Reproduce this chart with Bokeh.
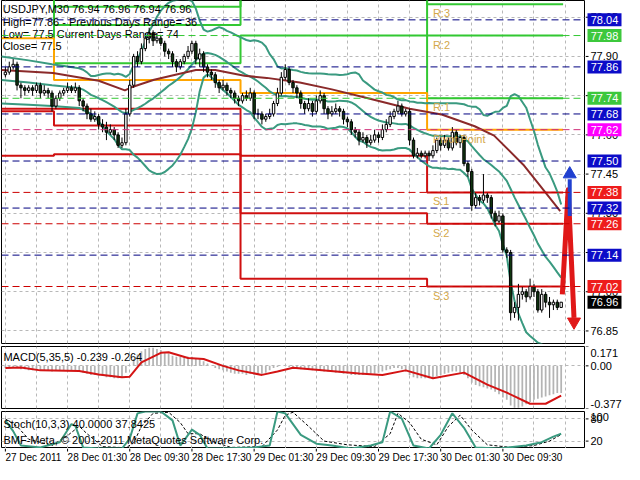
import numpy as np
from bokeh.plotting import figure
from bokeh.layouts import column, row
from bokeh.models import Range1d, FixedTicker, Span
from bokeh.embed import file_html
from bokeh.resources import INLINE
from bokeh.core.properties import value

FONT = "Liberation Sans"

# ---------------- candles (M30 bars, index 0 = 27 Dec 17:30) ----------------
close = [77.84,77.86,77.87,77.79,77.78,77.77,77.78,77.77,77.79,77.76,
         77.77,77.76,77.71,77.74,77.76,77.77,77.78,77.77,77.78,77.73,
         77.71,77.68,77.66,77.67,77.64,77.63,77.61,77.62,77.60,77.56,
         77.57,77.68,77.79,77.90,77.88,77.93,77.97,77.99,77.96,77.97,
         77.95,77.92,77.91,77.88,77.86,77.88,77.90,77.92,77.95,77.89,
         77.91,77.86,77.84,77.83,77.80,77.78,77.79,77.77,77.76,77.74,
         77.73,77.75,77.74,77.76,77.68,77.68,77.66,77.67,77.68,77.72,
         77.76,77.82,77.85,77.80,77.78,77.76,77.72,77.70,77.72,77.69,
         77.73,77.75,77.70,77.68,77.69,77.70,77.69,77.66,77.65,77.62,
         77.61,77.58,77.59,77.57,77.58,77.60,77.59,77.62,77.64,77.67,
         77.69,77.71,77.68,77.69,77.58,77.52,77.53,77.52,77.53,77.52,
         77.54,77.58,77.56,77.58,77.55,77.61,77.57,77.59,77.49,77.46,
         77.33,77.36,77.35,77.37,77.36,77.30,77.27,77.29,77.16,77.15,
         76.92,76.94,76.99,77.00,76.98,77.02,77.00,76.93,76.99,76.96,
         76.95,76.96,76.94,76.96]
high = [77.86,77.88,77.89,77.88,77.80,77.79,77.79,77.79,77.80,77.80,
        77.79,77.78,77.77,77.75,77.77,77.78,77.80,77.79,77.80,77.79,
        77.74,77.72,77.70,77.69,77.68,77.66,77.65,77.64,77.63,77.61,
        77.59,77.70,77.81,77.91,77.92,77.95,77.99,78.01,78.00,77.99,
        77.98,77.96,77.93,77.92,77.89,77.89,77.91,77.94,77.96,77.96,
        77.93,77.92,77.87,77.85,77.84,77.81,77.81,77.80,77.78,77.77,
        77.75,77.76,77.77,77.78,77.77,77.70,77.69,77.68,77.70,77.73,
        77.78,77.84,77.87,77.86,77.81,77.79,77.77,77.73,77.74,77.73,
        77.75,77.77,77.76,77.71,77.71,77.72,77.71,77.70,77.67,77.66,
        77.63,77.62,77.61,77.60,77.60,77.62,77.61,77.64,77.66,77.69,
        77.70,77.73,77.72,77.70,77.70,77.59,77.55,77.54,77.54,77.54,
        77.56,77.59,77.59,77.60,77.59,77.63,77.62,77.60,77.60,77.50,
        77.47,77.38,77.37,77.45,77.38,77.37,77.31,77.31,77.30,77.17,
        77.16,76.96,77.03,77.02,77.01,77.05,77.03,77.01,77.01,77.00,
        76.98,76.97,76.97,76.96]
low = [77.82,77.83,77.85,77.77,77.74,77.75,77.76,77.75,77.76,77.74,
       77.75,77.74,77.69,77.70,77.73,77.75,77.76,77.76,77.76,77.71,
       77.69,77.66,77.65,77.65,77.62,77.61,77.58,77.60,77.58,77.55,
       77.55,77.56,77.67,77.78,77.86,77.87,77.92,77.95,77.94,77.95,
       77.94,77.90,77.89,77.86,77.84,77.85,77.87,77.89,77.91,77.87,
       77.86,77.84,77.82,77.81,77.78,77.76,77.77,77.75,77.74,77.72,
       77.71,77.72,77.73,77.73,77.66,77.66,77.64,77.65,77.66,77.67,
       77.71,77.75,77.81,77.79,77.76,77.74,77.70,77.68,77.69,77.67,
       77.68,77.72,77.68,77.66,77.67,77.68,77.67,77.64,77.63,77.60,
       77.59,77.56,77.57,77.55,77.56,77.57,77.57,77.58,77.61,77.63,
       77.66,77.68,77.67,77.67,77.56,77.51,77.51,77.51,77.51,77.50,
       77.51,77.53,77.54,77.55,77.54,77.54,77.56,77.55,77.48,77.44,
       77.31,77.32,77.33,77.34,77.34,77.28,77.25,77.26,77.15,77.13,
       76.89,76.90,76.89,76.97,76.96,76.97,76.98,76.92,76.92,76.94,
       76.90,76.93,76.93,76.94]
first_open = 77.83

# ---------------- Bollinger Bands(20) lines ----------------
bb_x = [-1, 6, 12] + list(range(19, 144))
bb_mid = [77.81, 77.80, 77.79,
          77.779,77.773,77.764,77.753,77.747,77.740,77.733,77.725,77.717,77.708,77.697,77.687,77.683,77.688,77.696,77.702,77.710,77.719,
          77.730,77.739,77.751,77.763,77.775,77.788,77.798,77.809,77.821,77.836,77.851,77.869,77.885,77.902,77.911,77.913,77.910,77.906,
          77.898,77.889,77.879,77.868,77.857,77.846,77.838,77.829,77.823,77.814,77.804,77.792,77.780,77.766,77.758,77.750,77.748,77.749,
          77.747,77.746,77.745,77.742,77.738,77.736,77.734,77.734,77.734,77.732,77.728,77.728,77.729,77.731,77.730,77.729,77.724,77.716,
          77.704,77.691,77.679,77.669,77.661,77.655,77.651,77.647,77.646,77.644,77.642,77.641,77.642,77.636,77.627,77.619,77.612,77.606,
          77.601,77.597,77.597,77.596,77.596,77.595,77.595,77.594,77.593,77.585,77.575,77.557,77.540,77.523,77.507,77.496,77.485,77.472,
          77.460,77.442,77.424,77.393,77.361,77.332,77.303,77.275,77.245,77.216,77.184,77.159,77.133,77.115,77.095,77.074,77.054]
bb_up = [77.90, 77.885, 77.87,
         77.855,77.849,77.839,77.825,77.825,77.829,77.833,77.835,77.835,77.831,77.834,77.830,77.822,77.833,77.867,77.890,77.921,77.957,
         77.996,78.022,78.052,78.075,78.092,78.105,78.113,78.116,78.119,78.119,78.118,78.112,78.083,78.037,78.003,77.995,77.999,78.006,
         78.012,78.007,77.998,77.992,77.984,77.977,77.970,77.963,77.959,77.962,77.959,77.953,77.938,77.909,77.890,77.862,77.854,77.856,
         77.851,77.848,77.846,77.841,77.838,77.836,77.835,77.835,77.835,77.834,77.832,77.831,77.831,77.829,77.830,77.832,77.837,77.839,
         77.831,77.808,77.797,77.785,77.773,77.767,77.762,77.753,77.751,77.744,77.735,77.732,77.733,77.728,77.727,77.723,77.723,77.721,
         77.722,77.721,77.721,77.721,77.721,77.721,77.721,77.721,77.719,77.717,77.711,77.708,77.708,77.698,77.676,77.673,77.681,77.688,
         77.689,77.703,77.711,77.748,77.756,77.748,77.726,77.704,77.659,77.615,77.562,77.518,77.475,77.453,77.419,77.383,77.334]
bb_lo = [77.72, 77.715, 77.71,
         77.703,77.696,77.688,77.681,77.669,77.651,77.633,77.614,77.599,77.584,77.561,77.545,77.545,77.542,77.524,77.513,77.498,77.481,
         77.464,77.456,77.450,77.451,77.458,77.470,77.483,77.502,77.524,77.553,77.584,77.625,77.687,77.767,77.819,77.832,77.821,77.806,
         77.785,77.772,77.759,77.745,77.730,77.715,77.705,77.695,77.687,77.666,77.649,77.631,77.621,77.623,77.625,77.638,77.642,77.641,
         77.643,77.644,77.644,77.642,77.638,77.636,77.632,77.632,77.632,77.629,77.623,77.625,77.627,77.632,77.630,77.625,77.610,77.593,
         77.577,77.574,77.562,77.554,77.550,77.543,77.540,77.541,77.541,77.544,77.549,77.550,77.550,77.544,77.527,77.515,77.501,77.491,
         77.480,77.474,77.474,77.471,77.472,77.469,77.470,77.468,77.467,77.454,77.439,77.394,77.371,77.348,77.338,77.319,77.289,77.256,
         77.232,77.181,77.136,77.037,76.965,76.916,76.880,76.845,76.831,76.818,76.805,76.799,76.792,76.776,76.770,76.765,76.773]

# slow moving average (maroon)
ma_x = [-1,12.25,24,30.75,32.25,38.25,49,54,61.5,67.25,75.75,84,92.25,104,112.25,120.75,125.75,133.25,137.25,142.75]
ma_y = [77.848,77.837,77.807,77.77,77.781,77.811,77.848,77.848,77.826,77.818,77.80,77.774,77.744,77.70,77.678,77.633,77.597,77.486,77.412,77.308]

# ---------------- daily pivot levels (27, 28, 29, 30 Dec) ----------------
day_edges = [-1, 12.5, 60.5, 108.5, 143.5]
piv_P  = [77.97, 77.81, 77.76, 77.62]
piv_R1 = [78.20, 77.874, 77.98, 77.74]
piv_R2 = [78.40, 78.02, 78.22, 77.98]
piv_R3 = [78.60, 78.09, 78.47, 78.10]
piv_S1 = [77.70, 77.70, 77.52, 77.38]
piv_S2 = [77.69, 77.636, 77.30, 77.26]
piv_S3 = [77.52, 77.526, 77.05, 77.02]
piv_names = ["R:3", "R:2", "R:1", "Pivot Point", "S:1", "S:2", "S:3"]

# right-hand price boxes
box_levels = [78.04, 77.98, 77.86, 77.74, 77.68, 77.62, 77.50, 77.38, 77.32, 77.26, 77.14, 77.02, 76.96]
box_kinds = ["mid", "R", "mid", "R", "mid", "P", "mid", "S", "mid", "S", "mid", "S", "bid"]
price_ticks = [76.85, 77.00, 77.15, 77.30, 77.45, 77.60, 77.75, 77.90, 78.05]

# projection arrows
blue_arrow_x = [145.2, 145.2]
blue_arrow_y = [77.29, 77.43]
red_path_x = [143.3, 144.8, 146.3]
red_path_y = [76.99, 77.39, 76.90]

# ---------------- MACD(5,35,5) ----------------
macd_hist = [-0.02,-0.02,-0.01,-0.02,-0.03,-0.03,-0.04,-0.04,-0.04,-0.04,
             -0.04,-0.04,-0.05,-0.04,-0.04,-0.04,-0.04,-0.04,-0.04,-0.05,
             -0.06,-0.07,-0.08,-0.08,-0.09,-0.09,-0.10,-0.10,-0.11,-0.11,
             -0.10,-0.06,0.00,0.06,0.10,0.13,0.15,0.16,0.16,0.15,
             0.14,0.12,0.11,0.09,0.08,0.08,0.08,0.08,0.08,0.06,
             0.06,0.04,0.02,0.00,-0.02,-0.03,-0.04,-0.05,-0.06,-0.07,
             -0.07,-0.07,-0.08,-0.07,-0.08,-0.08,-0.07,-0.06,-0.04,-0.02,
             -0.01,0.00,0.00,-0.01,-0.02,-0.02,-0.03,-0.03,-0.03,-0.04,
             -0.04,-0.04,-0.05,-0.05,-0.05,-0.06,-0.06,-0.07,-0.07,-0.08,
             -0.08,-0.08,-0.08,-0.08,-0.07,-0.07,-0.06,-0.05,-0.04,-0.03,
             -0.02,-0.02,-0.03,-0.05,-0.08,-0.10,-0.11,-0.11,-0.11,-0.11,
             -0.10,-0.09,-0.08,-0.07,-0.06,-0.05,-0.05,-0.06,-0.08,-0.11,
             -0.15,-0.17,-0.18,-0.19,-0.20,-0.21,-0.23,-0.25,-0.28,-0.30,
             -0.35,-0.37,-0.37,-0.36,-0.34,-0.32,-0.30,-0.29,-0.28,-0.27,
             -0.26,-0.25,-0.24,-0.239]
macd_sig_x = [0,4,9,19,24,30,32,35,40,42,47,51,56,60,66,70,74,80,91,97,103,110,118,124,129,135,139,143]
macd_sig_y = [-0.020,-0.014,-0.04,-0.045,-0.076,-0.10,-0.096,0.03,0.115,0.12,0.07,0.06,0.0,-0.04,-0.08,-0.05,-0.017,-0.034,-0.068,-0.08,-0.04,-0.11,-0.06,-0.166,-0.237,-0.335,-0.335,-0.264]
macd_ticks = [0.171, 0.0, -0.377]
macd_tick_labels = ["0.171", "0.00", "-0.377"]

# ---------------- Stochastic(10,3,3) ----------------
st_main_x = [0,2,4,9,14,17,18,20,24,30,32,34,36,40,43,45,48,50,52,56,64,68,70,72,76,80,84,89,94,97,99,102,105,109,112,115,118,121,127,134,138,141,143]
st_main_y = [76,47,8,3,17,66,61,3,0,0,27,95,100,100,76,8,51,37,0,0,3,8,100,95,37,13,8,0,8,17,100,81,8,0,37,95,56,3,0,8,17,32,40]
st_sig_x = [0,3,6,12,16,19,21,25,31,33,35,38,42,45,47,50,53,58,66,70,72,74,78,82,88,95,99,101,104,107,111,114,117,120,124,130,136,140,143]
st_sig_y = [80,60,25,8,35,60,40,5,2,15,60,95,98,70,40,40,20,3,5,50,90,98,60,20,10,5,40,95,70,25,10,60,90,50,10,3,8,20,37.8]
st_levels = [20, 80]

time_ticks = [0, 16, 32, 48, 64, 80, 96, 112, 128]
time_labels = ["27 Dec 2011", "28 Dec 01:30", "28 Dec 09:30", "28 Dec 17:30", "29 Dec 01:30",
               "29 Dec 09:30", "29 Dec 17:30", "30 Dec 01:30", "30 Dec 09:30"]

# ---------------- styling ----------------
LW = 585          # width of chart figures (frame 583 + borders)
AW = 624 - LW     # width of price-scale strips
XR = Range1d(-1, 149)
GRID = "#b8b8b8"
TEAL = "#3a9a80"
MAROON = "#8b2a2a"
GREEN = "#32c832"
ORANGE = "#ffa500"
RED = "#d01010"
KIND_COLOR = {"mid": "#0c0cc8", "R": "#3cc83c", "P": "#ff00ff", "S": "#ee1c1c", "bid": "#000000"}
LINE_COLOR = {"mid": "#000080", "R": "#32c832", "P": "#d0307a", "S": "#cc0000"}
FS = value("11px")


def make_fig(h, yr, top=0, bottom=0):
    p = figure(width=LW, height=h, x_range=XR, y_range=yr, output_backend="svg",
               toolbar_location=None, y_axis_location=None, x_axis_location=None,
               min_border_left=1, min_border_right=1, min_border_top=top,
               min_border_bottom=bottom)
    p.outline_line_color = "black"
    p.outline_line_width = 1
    p.background_fill_color = "white"
    p.border_fill_color = "white"
    p.xgrid.ticker = FixedTicker(ticks=list(range(0, 150, 8)))
    for g in (p.xgrid, p.ygrid):
        g.grid_line_color = GRID
        g.grid_line_dash = "3 3"
        g.grid_line_width = 1
    return p


def make_scale(h, yr, top=0, bottom=0):
    a = figure(width=AW, height=h, x_range=Range1d(0, AW - 0.0001), y_range=yr,
               output_backend="svg", toolbar_location=None, y_axis_location=None,
               x_axis_location=None, min_border_left=0, min_border_right=0,
               min_border_top=top, min_border_bottom=bottom)
    a.outline_line_color = None
    a.grid.visible = False
    a.background_fill_color = "white"
    a.border_fill_color = "white"
    return a


def scale_text(a, x, y, txt, baseline="middle", color="black", yoff=0, align="left"):
    a.text(x=x, y=y, text=txt, text_font=value(FONT), text_font_size=FS,
           text_color=color, text_baseline=baseline, text_align=align, y_offset=yoff)


# ===== main price panel =====
p1 = make_fig(344, Range1d(76.802, 78.114), top=0, bottom=1)
p1.ygrid.ticker = FixedTicker(ticks=price_ticks)

for lvl, kind in zip(box_levels, box_kinds):
    if kind == "bid":
        continue
    p1.add_layout(Span(location=lvl, dimension="width", line_color=LINE_COLOR[kind],
                       line_dash="7 4", line_width=1))


def step_line(vals, color):
    p1.step(x=day_edges, y=vals + [vals[-1]], mode="after", line_color=color, line_width=2)


for vals in (piv_R3, piv_R2, piv_R1):
    step_line(vals, GREEN)
step_line(piv_P, ORANGE)
for vals in (piv_S1, piv_S2, piv_S3):
    step_line(vals, RED)

p1.line(bb_x, bb_up, line_color=TEAL, line_width=2)
p1.line(bb_x, bb_mid, line_color=TEAL, line_width=2)
p1.line(bb_x, bb_lo, line_color=TEAL, line_width=2)
p1.line(ma_x, ma_y, line_color=MAROON, line_width=2)

bars = list(range(len(close)))
opn = [first_open] + close[:-1]
body_top = [max(o, c) for o, c in zip(opn, close)]
body_bot = [min(o, c) for o, c in zip(opn, close)]
fills = ["white" if c >= o else "#103810" for o, c in zip(opn, close)]
p1.segment(x0=bars, y0=low, x1=bars, y1=high, line_color="black", line_width=1)
p1.vbar(x=bars, width=0.62, top=body_top, bottom=body_bot, fill_color=fills,
        line_color="black", line_width=1)

day30 = [piv_R3[3], piv_R2[3], piv_R1[3], piv_P[3], piv_S1[3], piv_S2[3], piv_S3[3]]
p1.text(x=[110] * len(day30), y=day30, text=piv_names, text_font=value(FONT),
        text_font_size=FS, text_color="#d4a84a", text_baseline="top", y_offset=3)

p1.line(red_path_x, red_path_y, line_color="#e01818", line_width=5, line_join="round")
p1.scatter([red_path_x[2]], [red_path_y[2] - 0.015], marker="inverted_triangle", size=13,
           fill_color="#e01818", line_color="#e01818")
p1.line(blue_arrow_x, blue_arrow_y, line_color="#2040d0", line_width=4)
p1.scatter([blue_arrow_x[1]], [blue_arrow_y[1] + 0.02], marker="triangle", size=13,
           fill_color="#2040d0", line_color="#2040d0")

info = ["USDJPY,M30  76.94 76.96 76.94 76.96",
        "High=77.86 - Previous Days Range= 36",
        "Low= 77.5    Current Days Range= 74",
        "Close= 77.5"]
p1.text(x=[-0.7] * 4, y=[78.114] * 4, text=info, text_font=value(FONT), text_font_size=FS,
        text_color="black", text_baseline="top", y_offset=[2, 15, 27, 39])

# price scale strip
a1 = make_scale(344, p1.y_range, top=0, bottom=1)
a1.segment(x0=[0] * len(price_ticks), y0=price_ticks, x1=[3] * len(price_ticks), y1=price_ticks,
           line_color="black")
scale_text(a1, [5] * len(price_ticks), price_ticks, ["%.2f" % t for t in price_ticks])
a1.rect(x=[19] * len(box_levels), y=box_levels, width=34, height=13, height_units="screen",
        fill_color=[KIND_COLOR[k] for k in box_kinds], line_color=None)
scale_text(a1, [19] * len(box_levels), box_levels, ["%.2f" % v for v in box_levels],
           color="white", align="center")

# ===== MACD panel =====
p2 = make_fig(65, Range1d(-0.377, 0.171), top=2, bottom=1)
p2.ygrid.ticker = FixedTicker(ticks=[0.0])
p2.vbar(x=bars, width=0.45, top=macd_hist, bottom=0, fill_color="#b4b4b4", line_color=None)
p2.line(macd_sig_x, macd_sig_y, line_color="#d41414", line_width=2)
p2.text(x=[-0.5], y=[0.171], text=["MACD(5,35,5) -0.239 -0.264"], text_font=value(FONT),
        text_font_size=FS, text_color="black", text_baseline="top", y_offset=4)

a2 = make_scale(65, p2.y_range, top=2, bottom=1)
a2.segment(x0=[0] * 3, y0=macd_ticks, x1=[3] * 3, y1=macd_ticks, line_color="black")
scale_text(a2, [5], [macd_ticks[0]], [macd_tick_labels[0]], baseline="top", yoff=2)
scale_text(a2, [5], [macd_ticks[1]], [macd_tick_labels[1]])
scale_text(a2, [5], [macd_ticks[2]], [macd_tick_labels[2]], baseline="bottom", yoff=-1)

# ===== Stochastic panel =====
p3 = make_fig(39, Range1d(0, 100), top=2, bottom=0)
p3.ygrid.ticker = FixedTicker(ticks=st_levels)
p3.line(st_sig_x, st_sig_y, line_color="black", line_width=1, line_dash="3 2")
p3.line(st_main_x, st_main_y, line_color=TEAL, line_width=2)
p3.text(x=[-0.5, -0.5], y=[100, 100],
        text=["Stoch(10,3,3) 40.0000 37.8425", "BMF-Meta, \u00a9 2001-2011 MetaQuotes Software Corp."],
        text_font=value(FONT), text_font_size=FS, text_color="black", text_baseline="top",
        y_offset=[6, 22])

a3 = make_scale(39, p3.y_range, top=2, bottom=0)
a3.segment(x0=[0] * 2, y0=st_levels, x1=[3] * 2, y1=st_levels, line_color="black")
scale_text(a3, [5], [100], ["100"], baseline="top", yoff=1)
scale_text(a3, [5, 5], st_levels, ["20", "80"])

# ===== time axis strip =====
p4 = figure(width=624, height=16, x_range=XR, y_range=Range1d(0, 16), output_backend="svg",
            toolbar_location=None, y_axis_location=None, x_axis_location=None,
            min_border_left=1, min_border_right=AW + 1, min_border_top=0, min_border_bottom=0)
p4.outline_line_color = None
p4.grid.visible = False
p4.segment(x0=time_ticks, y0=[16] * len(time_ticks), x1=time_ticks, y1=[13] * len(time_ticks),
           line_color="black")
p4.text(x=time_ticks, y=[16] * len(time_ticks), text=time_labels, text_font=value(FONT),
        text_font_size=value("10px"), text_color="black", text_baseline="top",
        text_align="left", y_offset=3)

layout = column(row(p1, a1, spacing=0), row(p2, a2, spacing=0), row(p3, a3, spacing=0), p4,
                spacing=0)
open("out.html", "w").write(file_html(layout, INLINE))
